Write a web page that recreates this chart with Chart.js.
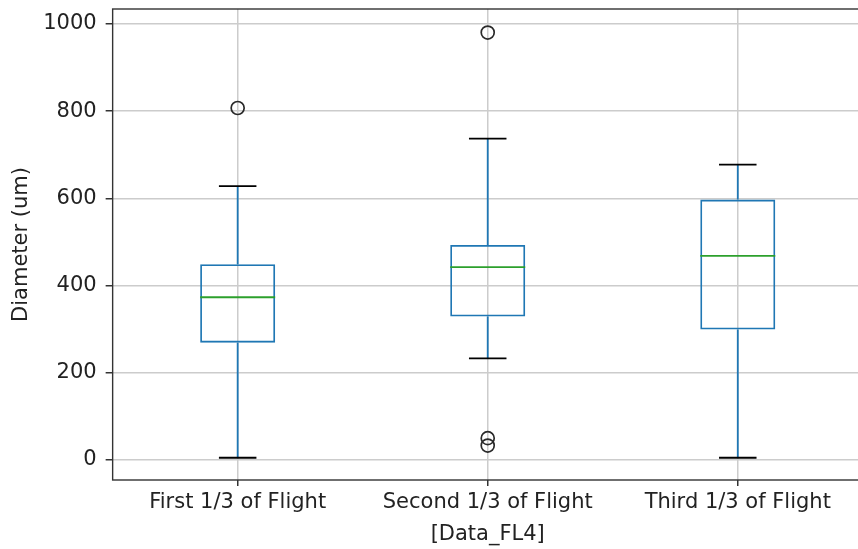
<!DOCTYPE html>
<html>
<head>
<meta charset="UTF-8" />
<title>Diameter by flight third</title>
<script src="https://cdn.jsdelivr.net/npm/chart.js"></script>
<style>
  html, body {
    margin: 0;
    padding: 0;
    background: #ffffff;
    overflow: hidden;
  }
  #wrap {
    width: 858px;
    height: 549px;
    overflow: hidden;
  }
</style>
</head>
<body>
<div id="wrap">
  <canvas id="boxChart" width="871" height="549"></canvas>
</div>

<script>
// values
var categories = ["First 1/3 of Flight", "Second 1/3 of Flight", "Third 1/3 of Flight"];
var q1 = [269, 329, 299];
var q3 = [449, 493, 597];
var medians = [373, 442, 468];
var whiskerLow = [5, 233, 5];
var whiskerHigh = [628, 737, 677];
var outliers = [[807], [980, 50, 33], []];
var yTicks = [0, 200, 400, 600, 800, 1000];

var outlierPoints = [];
for (var i = 0; i < categories.length; i++) {
  for (var j = 0; j < outliers[i].length; j++) {
    outlierPoints.push({ x: categories[i], y: outliers[i][j] });
  }
}

var boxes = [];
for (var k = 0; k < categories.length; k++) {
  boxes.push([q1[k], q3[k]]);
}

var FONT = "'DejaVu Sans', sans-serif";

// whiskers, caps, medians and the frame
var boxExtras = {
  id: "boxExtras",
  afterDatasetsDraw: function(chart) {
    var ctx = chart.ctx;
    var xs = chart.scales.x;
    var ys = chart.scales.y;
    var bars = chart.getDatasetMeta(0).data;
    ctx.save();
    for (var i = 0; i < categories.length; i++) {
      var cx = xs.getPixelForValue(i);
      var half = bars[i].width / 2;
      var capHalf = half / 2;

      ctx.lineWidth = 1.8;
      ctx.strokeStyle = "#1f77b4";
      ctx.beginPath();
      ctx.moveTo(cx, ys.getPixelForValue(q3[i]));
      ctx.lineTo(cx, ys.getPixelForValue(whiskerHigh[i]));
      ctx.moveTo(cx, ys.getPixelForValue(q1[i]));
      ctx.lineTo(cx, ys.getPixelForValue(whiskerLow[i]));
      ctx.stroke();

      ctx.strokeStyle = "#000000";
      ctx.beginPath();
      var yh = ys.getPixelForValue(whiskerHigh[i]);
      var yl = ys.getPixelForValue(whiskerLow[i]);
      ctx.moveTo(cx - capHalf, yh);
      ctx.lineTo(cx + capHalf, yh);
      ctx.moveTo(cx - capHalf, yl);
      ctx.lineTo(cx + capHalf, yl);
      ctx.stroke();

      ctx.strokeStyle = "#2ca02c";
      ctx.beginPath();
      var ym = ys.getPixelForValue(medians[i]);
      ctx.moveTo(cx - half, ym);
      ctx.lineTo(cx + half, ym);
      ctx.stroke();
    }
    ctx.restore();
  },
  afterDraw: function(chart) {
    var a = chart.chartArea;
    var ctx = chart.ctx;
    ctx.save();
    ctx.strokeStyle = "#333333";
    ctx.lineWidth = 1.4;
    ctx.strokeRect(a.left, a.top, a.right - a.left, a.bottom - a.top);
    ctx.restore();
  }
};

var ctx = document.getElementById("boxChart").getContext("2d");
new Chart(ctx, {
  type: "bar",
  data: {
    labels: categories,
    datasets: [
      {
        label: "box",
        data: boxes,
        backgroundColor: "rgba(0,0,0,0)",
        borderColor: "#1f77b4",
        borderWidth: 1.8,
        borderSkipped: false,
        barPercentage: 0.3,
        categoryPercentage: 1.0
      },
      {
        type: "line",
        label: "outliers",
        data: outlierPoints,
        showLine: false,
        pointStyle: "circle",
        pointRadius: 6.5,
        pointBorderWidth: 1.7,
        pointBorderColor: "#2a2a2a",
        pointBackgroundColor: "rgba(0,0,0,0)"
      }
    ]
  },
  options: {
    responsive: false,
    animation: false,
    layout: { padding: { left: 7, right: 7, top: 9, bottom: 3.5 } },
    plugins: {
      legend: { display: false },
      tooltip: { enabled: false }
    },
    scales: {
      x: {
        offset: true,
        grid: { offset: false, color: "#cccccc", lineWidth: 1.5, tickColor: "#333333", tickLength: 6 },
        border: { display: false },
        ticks: { color: "#222222", font: { family: FONT, size: 21, lineHeight: 1.0 }, padding: 6, maxRotation: 0 },
        title: {
          display: true,
          text: "[Data_FL4]",
          color: "#222222",
          font: { family: FONT, size: 21, lineHeight: 1.0 },
          padding: { top: 5.5, bottom: 0 }
        }
      },
      y: {
        min: -46,
        max: 1034,
        afterBuildTicks: function(scale) {
          scale.ticks = yTicks.map(function(v) { return { value: v }; });
        },
        afterFit: function(scale) {
          scale.paddingTop = 0;
          scale.paddingBottom = 0;
        },
        grid: { color: "#cccccc", lineWidth: 1.5, tickColor: "#333333", tickLength: 7 },
        border: { display: false },
        ticks: {
          color: "#222222",
          font: { family: FONT, size: 21 },
          padding: 9,
          callback: function(v) { return String(v); }
        },
        title: {
          display: true,
          text: "Diameter (um)",
          color: "#222222",
          font: { family: FONT, size: 21 },
          padding: { top: 2, bottom: 0 }
        }
      }
    }
  },
  plugins: [boxExtras]
});
</script>
</body>
</html>
